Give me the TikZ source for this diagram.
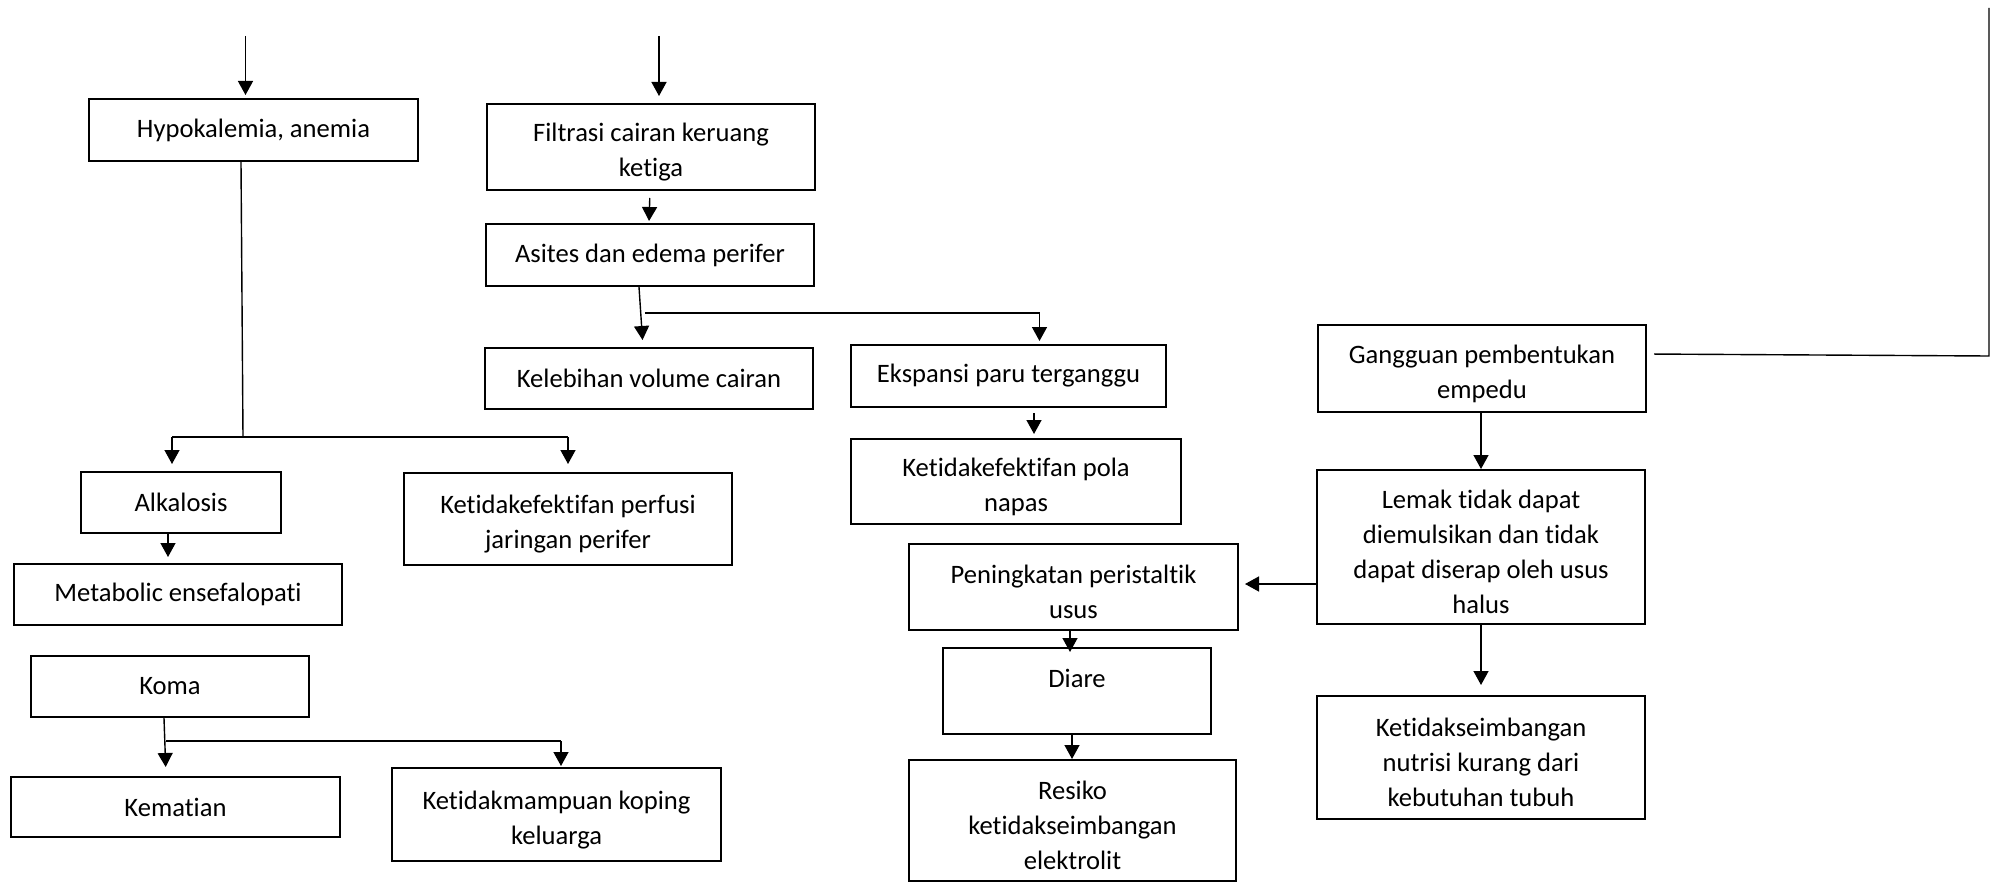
\documentclass[tikz,border=0pt]{standalone}
\usepackage{fontspec}
\setmainfont[Ligatures={NoCommon,NoContextual}]{Carlito}
\usetikzlibrary{arrows.meta}
% taller first line: lets stacked labels sit a little lower in their frames
\newcommand\firststrut{\rule{0pt}{14.5pt}}
\begin{document}
\begin{tikzpicture}[x=0.5pt,y=-0.5pt,
  box/.style={draw, line width=1pt, inner sep=0pt, align=center,
    font=\fontsize{13.3}{17.5}\selectfont},
  arr/.style={-{Triangle[length=7pt,width=7.5pt]}, line width=0.7pt},
  ln/.style={line width=0.7pt}]
\useasboundingbox (0,0) rectangle (1997,883);

% left column
\node[box, minimum width=164.5pt, minimum height=31pt] (hypo) at (253.5,130) {Hypokalemia, anemia};
\node[box, minimum width=100pt, minimum height=30.5pt] (alka) at (181,502.5) {Alkalosis};
\node[box, minimum width=164pt, minimum height=46pt] (perf) at (568,519) {\firststrut Ketidakefektifan perfusi\\jaringan perifer};
\node[box, minimum width=164pt, minimum height=30.5pt] (meta) at (178,594.5) {Metabolic ensefalopati};
\node[box, minimum width=139pt, minimum height=30.5pt] (koma) at (170,686.5) {Koma};
\node[box, minimum width=164.5pt, minimum height=30pt] (kema) at (175.5,807) {Kematian};
\node[box, minimum width=164.5pt, minimum height=46.5pt] (mamp) at (556.5,814.5) {\firststrut Ketidakmampuan koping\\keluarga};

% middle column
\node[box, minimum width=164pt, minimum height=43pt] (filt) at (651,147) {\firststrut Filtrasi cairan keruang\\ketiga};
\node[box, minimum width=164pt, minimum height=31pt] (asit) at (650,255) {Asites dan edema perifer};
\node[box, minimum width=164pt, minimum height=30.5pt] (kele) at (649,378.5) {Kelebihan volume cairan};
\node[box, minimum width=157.5pt, minimum height=31pt] (eksp) at (1008.5,376) {Ekspansi paru terganggu};
\node[box, minimum width=165pt, minimum height=42.5pt] (pola) at (1016,481.5) {\firststrut Ketidakefektifan pola\\napas};
\node[box, minimum width=164.5pt, minimum height=43pt] (peni) at (1073.5,587) {\firststrut Peningkatan peristaltik\\usus};
\node[box, minimum width=134pt, minimum height=43pt, text height=9pt, text depth=12.6pt] (diar) at (1077,691) {Diare};
\node[box, minimum width=163.5pt, minimum height=60.5pt] (resi) at (1072.5,820.5) {\firststrut Resiko\\ketidakseimbangan\\elektrolit};

% right column
\node[box, minimum width=164pt, minimum height=43.5pt] (gang) at (1482,368.5) {\firststrut Gangguan pembentukan\\empedu};
\node[box, minimum width=164pt, minimum height=77pt] (lema) at (1481,547) {\firststrut Lemak tidak dapat\\diemulsikan dan tidak\\dapat diserap oleh usus\\halus};
\node[box, minimum width=164pt, minimum height=61.5pt] (nutr) at (1481,757.5) {\firststrut Ketidakseimbangan\\nutrisi kurang dari\\kebutuhan tubuh};

% incoming arrows at the top
\coordinate (in1) at (245.5,36);
\coordinate (in2) at (659,36);
\draw[arr, shorten >=1.5pt] (in1) -- (in1 |- hypo.north);
\draw[arr, shorten >=3.5pt] (in2) -- (in2 |- filt.north);

% hypokalemia branch
\coordinate (h1) at (243,437);
\coordinate (h2) at (172,437);
\coordinate (h3) at (568,437);
\draw[ln] ([xshift=-6.25pt]hypo.south) -- (h1);
\draw[ln] (h2) -- (h3);
\draw[arr, shorten >=3.5pt] (h2) -- (h2 |- alka.north);
\draw[arr, shorten >=4pt] (h3) -- (perf.north);
\draw[arr, shorten >=3pt] ([xshift=-6.5pt]alka.south) -- ([xshift=-5pt]meta.north);

% koma branch
\coordinate (k1) at (166,741);
\coordinate (k2) at (561,741);
\draw[arr, shorten >=4.5pt] ([xshift=-3pt]koma.south) -- ([xshift=-4.75pt]kema.north);
\draw[ln] (k1) -- (k2);
\draw[arr, shorten >=0.5pt] (k2) -- (k2 |- mamp.north);

% fluid branch
\draw[arr, shorten <=3.5pt, shorten >=1pt] ([xshift=-0.5pt]filt.south) -- ([xshift=-0.5pt]asit.north);
\draw[arr, shorten >=3.5pt] ([xshift=-5.5pt]asit.south) -- ([xshift=-3pt]kele.north);
\coordinate (b1) at (645,313);
\coordinate (b2) at (1039.5,313);
\draw[ln] (b1) -- (b2);
\draw[arr, shorten >=1.5pt] (b2) -- (b2 |- eksp.north);
\draw[arr, shorten <=2.5pt, shorten >=2pt] ([xshift=12.75pt]eksp.south) -- ([xshift=9pt]pola.north);

% bile branch
\coordinate (g1) at (1989,356);
\coordinate (g2) at (1989,8);
\draw[ln, shorten <=3.5pt] ([yshift=7.25pt]gang.east) -- (g1) -- (g2);
\draw[arr] ([xshift=-0.5pt]gang.south) -- (lema.north);
\draw[arr, shorten >=3pt] ([yshift=-18.5pt]lema.west) -- ([yshift=1.5pt]peni.east);
\draw[arr, shorten >=-2.5pt] ([xshift=-1.75pt]peni.south) -- ([xshift=-3.5pt]diar.north);
\draw[arr] ([xshift=-2.5pt]diar.south) -- ([xshift=-0.25pt]resi.north);
\draw[arr, shorten >=5pt] (lema.south) -- (nutr.north);
\end{tikzpicture}
\end{document}
